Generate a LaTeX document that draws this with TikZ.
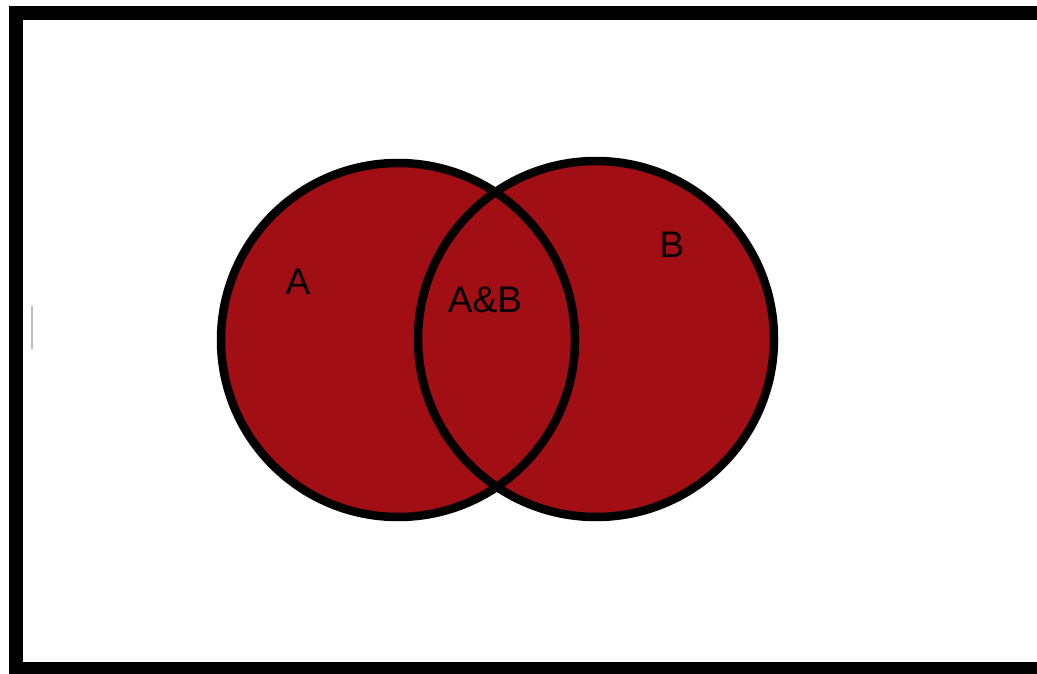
\documentclass[tikz,border=0pt]{standalone}
\usepackage{fontspec}
\setmainfont{Liberation Sans}
\definecolor{setred}{RGB}{161,14,20}
\begin{document}
\begin{tikzpicture}[x=1pt,y=-1pt,
  setfill/.style={fill=setred},
  setline/.style={draw=black,line width=8.5pt},
  lbl/.style={font=\fontsize{37}{42}\selectfont,text=black,inner sep=0pt}]
\useasboundingbox (0,0) rectangle (1037,674);
\fill[white] (0,0) rectangle (1037,674);
\draw[line width=14pt] (16,13.5) rectangle (1050,669);
\draw[gray!50,line width=1.2pt] (32,306) -- (32,349);
\coordinate (ca) at (398,340);
\coordinate (cb) at (596,339);
\fill[setfill] (ca) circle (177);
\fill[setfill] (cb) circle (178);
\draw[setline] (ca) circle (177);
\draw[setline] (cb) circle (178);
\node[lbl] (a) at (298,282) {A};
\node[lbl] (ab) at (485,300) {A\&B};
\node[lbl] (b) at (672,245) {B};
\end{tikzpicture}
\end{document}
